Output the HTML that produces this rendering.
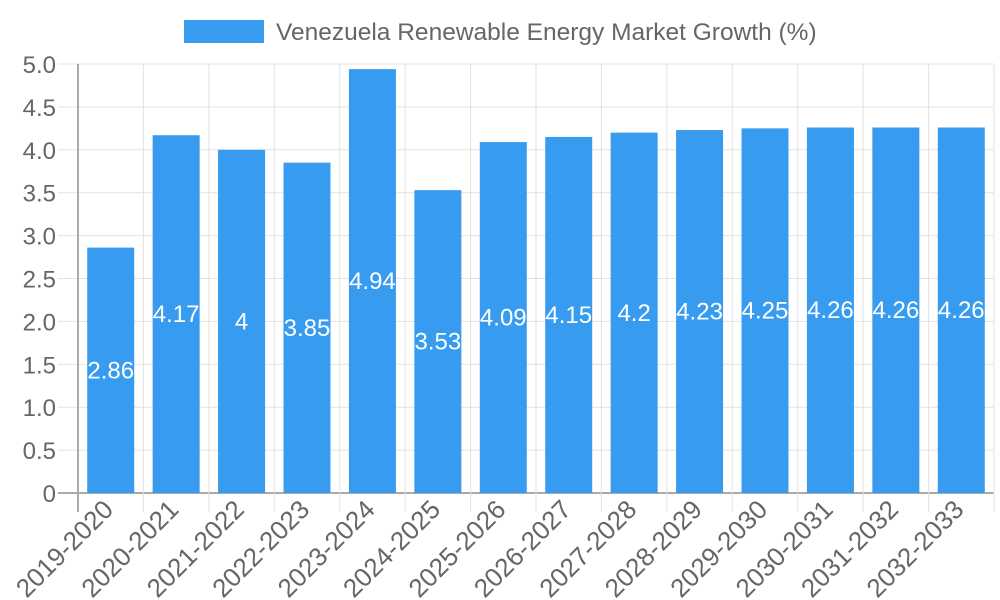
<!DOCTYPE html>
<html><head><meta charset="utf-8"><style>
html,body{margin:0;padding:0;background:#fff;}
svg{display:block;font-family:"Liberation Sans",sans-serif;}
</style></head><body>
<svg id="chart" width="1000" height="600" viewBox="0 0 1000 600" xmlns="http://www.w3.org/2000/svg">
<g>
<rect x="184" y="20" width="80" height="23" fill="#379cf0"/>
<text x="276" y="40" font-size="24.5" fill="#666">Venezuela Renewable Energy Market Growth (%)</text>
</g>
<g id="grid"></g>
<g id="bars"></g>
<g id="axes"></g>
</svg>
<script>
const categories=["2019-2020","2020-2021","2021-2022","2022-2023","2023-2024","2024-2025","2025-2026","2026-2027","2027-2028","2028-2029","2029-2030","2030-2031","2031-2032","2032-2033"];
const growthValues=[2.86,4.17,4,3.85,4.94,3.53,4.09,4.15,4.2,4.23,4.25,4.26,4.26,4.26];
const yTicks=[0,0.5,1,1.5,2,2.5,3,3.5,4,4.5,5];
const yTickLabels=["0","0.5","1.0","1.5","2.0","2.5","3.0","3.5","4.0","4.5","5.0"];

const NS="http://www.w3.org/2000/svg";
const L=78,R=994,T=64,B=493,yMax=5;
const step=(R-L)/categories.length, bw=47;
const y=v=>B-(v/yMax)*(B-T);
const xc=i=>L+step*(i+0.5);
function mk(tag,attrs,parent){const e=document.createElementNS(NS,tag);for(const k in attrs)e.setAttribute(k,attrs[k]);parent.appendChild(e);return e;}
const grid=document.getElementById('grid'),bars=document.getElementById('bars'),axes=document.getElementById('axes');

yTicks.forEach((t,i)=>{
  const l=mk('line',{x1:58,x2:R,y1:y(t),y2:y(t),stroke:t===0?'#aaa':'#e2e2e2','stroke-width':t===0?2:1},grid);
  
  
  const tx=mk('text',{x:56,y:y(t)+9,'text-anchor':'end','font-size':24,fill:'#666'},axes);
  tx.textContent=yTickLabels[i];
  
  
});
for(let i=0;i<=categories.length;i++){
  const x=L+step*i;
  const l=mk('line',{x1:x,x2:x,y1:T,y2:512,stroke:i===0?'#aaa':'#e2e2e2','stroke-width':i===0?2:1},grid);
  
  
}
categories.forEach((c,i)=>{
  const v=growthValues[i];
  const r=mk('rect',{x:xc(i)-bw/2,y:y(v),width:bw,height:B-y(v),fill:'#379cf0'},bars);
  
  
  const lb=mk('text',{x:xc(i),y:(y(v)+B)/2+8,'text-anchor':'middle','font-size':24,fill:'#fff'},bars);
  lb.textContent=String(v);
  
  
  const xl=mk('text',{x:0,y:0,'text-anchor':'end','font-size':26,fill:'#666',transform:`translate(${xc(i)+4},${511}) rotate(-45)`},axes);
  xl.textContent=c;
  
  
});
</script>
</body></html>
